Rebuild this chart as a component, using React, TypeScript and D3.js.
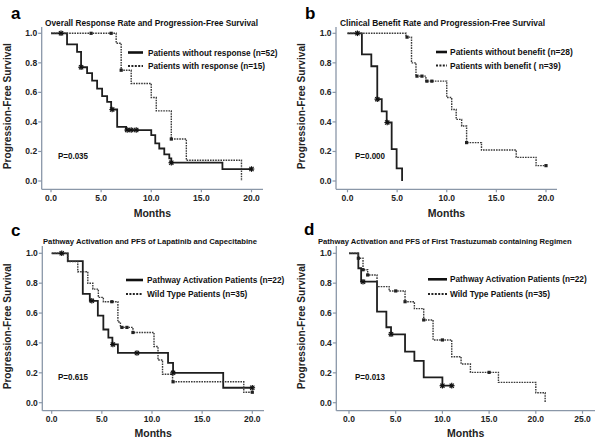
import React from 'react';
import * as d3 from 'd3';

const FONT = "Arial, 'Liberation Sans', Helvetica, sans-serif";

// ---------- shared ticks ----------
const yTicks = [0, 0.2, 0.4, 0.6, 0.8, 1.0];
const xTicks20 = [0, 5, 10, 15, 20];
const xTicks25 = [0, 5, 10, 15, 20, 25];

// ---------- panel a ----------
const aTitle = 'Overall Response Rate and Progression-Free Survival';
const aLegend = ['Patients without response (n=52)', 'Patients with response (n=15)'];
const aP = 'P=0.035';
const aNoRespT = [0, 1.6, 2.6, 3.0, 3.6, 4.1, 4.6, 5.1, 5.6, 6.0, 6.6, 7.5, 10.0, 10.4, 10.8, 11.3, 11.8, 12.0, 17.1];
const aNoRespS = [1, 0.925, 0.874, 0.77, 0.73, 0.68, 0.626, 0.574, 0.536, 0.484, 0.367, 0.345, 0.31, 0.255, 0.22, 0.18, 0.153, 0.124, 0.081];
const aNoRespEnd = 20;
const aNoRespCens = [1.0, 3.0, 6.1, 7.6, 8.0, 8.5, 12.0, 20.0];
const aRespT = [0, 6.5, 7.0, 8.0, 10.0, 10.5, 12.0, 13.5, 19.0];
const aRespS = [1, 0.933, 0.75, 0.66, 0.565, 0.475, 0.284, 0.14, 0];
const aRespEnd = 19;
const aRespCens = [4.0, 6.0, 7.0, 12.0];

// ---------- panel b ----------
const bTitle = 'Clinical Benefit Rate and Progression-Free Survival';
const bLegend = ['Patients without benefit (n=28)', 'Patients with benefit ( n=39)'];
const bP = 'P=0.000';
const bNoBenT = [0, 1.45, 2.4, 3.0, 3.45, 3.95, 4.45, 4.95, 5.5];
const bNoBenS = [1, 0.857, 0.777, 0.554, 0.472, 0.396, 0.216, 0.086, 0];
const bNoBenEnd = 5.5;
const bNoBenCens = [1.0, 3.0, 4.0];
const bBenT = [0, 5.9, 6.45, 6.9, 7.9, 10.0, 10.5, 10.95, 11.5, 12.0, 13.5, 17.0, 19.0];
const bBenS = [1, 0.974, 0.8, 0.71, 0.676, 0.565, 0.484, 0.417, 0.372, 0.26, 0.21, 0.16, 0.104];
const bBenEnd = 20;
const bBenCens = [6.0, 7.0, 7.5, 8.0, 8.5, 12.0, 20.0];

// ---------- panel c ----------
const cTitle = 'Pathway Activation and PFS of Lapatinib and Capecitabine';
const cLegend = ['Pathway Activation Patients (n=22)', 'Wild Type Patients (n=35)'];
const cP = 'P=0.615';
const cActT = [0, 1.6, 3.1, 3.8, 4.6, 5.15, 5.65, 6.05, 6.6, 11.6, 12.1, 17.1];
const cActS = [1, 0.948, 0.728, 0.682, 0.583, 0.49, 0.435, 0.39, 0.333, 0.266, 0.2, 0.1];
const cActEnd = 20;
const cActCens = [1.0, 4.0, 6.1, 8.5, 12.1, 20.0];
const cWildT = [0, 1.6, 2.6, 3.6, 4.1, 4.65, 5.15, 6.6, 6.85, 8.1, 10.2, 10.6, 11.05, 12.05, 19.15];
const cWildS = [1, 0.944, 0.877, 0.8, 0.76, 0.705, 0.676, 0.54, 0.504, 0.47, 0.376, 0.286, 0.19, 0.14, 0.07];
const cWildEnd = 20;
const cWildCens = [6.0, 7.0, 7.5, 8.1, 12.1, 20.0];

// ---------- panel d ----------
const dTitle = 'Pathway Activation and PFS of First Trastuzumab containing Regimen';
const dLegend = ['Pathway Activation Patients (n=22)', 'Wild Type Patients (n=35)'];
const dP = 'P=0.013';
const dActT = [0, 1.0, 1.3, 3.0, 4.0, 4.5, 6.0, 7.0, 8.0, 10.0];
const dActS = [1, 0.9, 0.81, 0.61, 0.505, 0.458, 0.342, 0.28, 0.17, 0.114];
const dActEnd = 11;
const dActCens = [1.5, 4.5, 10.0, 11.0];
const dWildT = [0, 1.0, 1.5, 2.0, 3.0, 4.3, 6.0, 7.0, 8.0, 9.0, 11.0, 12.0, 13.0, 16.0, 20.0, 21.0];
const dWildS = [1, 0.967, 0.89, 0.855, 0.777, 0.748, 0.676, 0.63, 0.554, 0.42, 0.308, 0.259, 0.203, 0.136, 0.067, 0];
const dWildEnd = 21;
const dWildCens = [1.0, 1.5, 2.0, 5.0, 6.0, 8.0, 10.0, 15.0];

type Series = { t: number[]; s: number[]; end: number; cens: number[]; dotted: boolean };

type PanelCfg = {
  letter: string; letterX: number; letterY: number;
  title: string; titleX: number; titleY: number; titleSize: number; titleLen: number;
  xTicks: number[]; xMax: number; xPx0: number; xPx1: number;
  yPx0: number; yPx1: number;
  axisX: number; axisTop: number; axisY: number; axisRight: number;
  tickBase: number; monthsBase: number; ylabX: number;
  legX1: number; legX2: number; legTX: number; legY: number[]; legLen: number[]; legend: string[];
  pText: string; pX: number; pY: number;
  series: Series[];
};

const AXIS = '#8a97a8';

function Panel({ c }: { c: PanelCfg }) {
  const x = d3.scaleLinear().domain([0, c.xMax]).range([c.xPx0, c.xPx1]);
  const y = d3.scaleLinear().domain([0, 1]).range([c.yPx0, c.yPx1]);
  const line = d3.line<[number, number]>().x(d => x(d[0])).y(d => y(d[1])).curve(d3.curveStepAfter);
  const xMid = (c.axisX + c.axisRight) / 2;
  const yMid = (c.axisTop + c.axisY) / 2 - 2;
  return (
    <g fontFamily={FONT} fontWeight="bold">
      <text x={c.letterX} y={c.letterY} fontSize={17} fill="#000">{c.letter}</text>
      <text x={c.titleX} y={c.titleY} fontSize={c.titleSize} fill="#111" textLength={c.titleLen} lengthAdjust="spacingAndGlyphs">{c.title}</text>
      {/* axes */}
      <line x1={c.axisX} x2={c.axisX} y1={c.axisTop} y2={c.axisY} stroke={AXIS} strokeWidth={1.3} />
      <line x1={c.axisX} x2={c.axisRight} y1={c.axisY} y2={c.axisY} stroke={AXIS} strokeWidth={1.3} />
      {yTicks.map(v => (
        <g key={'y' + v}>
          <line x1={c.axisX - 3.5} x2={c.axisX} y1={y(v)} y2={y(v)} stroke={AXIS} strokeWidth={1.2} />
          <text x={c.axisX - 4.5} y={y(v)} dy="0.35em" textAnchor="end" fontSize={8.5} fill="#222">{v.toFixed(1)}</text>
        </g>
      ))}
      {c.xTicks.map(v => (
        <g key={'x' + v}>
          <line x1={x(v)} x2={x(v)} y1={c.axisY} y2={c.axisY + 3} stroke={AXIS} strokeWidth={1.2} />
          <text x={x(v)} y={c.tickBase} textAnchor="middle" fontSize={8.5} fill="#222">{v.toFixed(1)}</text>
        </g>
      ))}
      <text x={xMid} y={c.monthsBase} textAnchor="middle" fontSize={10.5} fill="#222">Months</text>
      <text transform={`translate(${c.ylabX},${yMid}) rotate(-90)`} textAnchor="middle" fontSize={10} fill="#222" textLength={126} lengthAdjust="spacingAndGlyphs">Progression-Free Survival</text>
      {/* curves */}
      {c.series.map((s, i) => {
        const pts: [number, number][] = s.t.map((t, k) => [t, s.s[k]] as [number, number]);
        const last = s.s[s.s.length - 1];
        if (s.end > s.t[s.t.length - 1]) pts.push([s.end, last]);
        return (
          <path key={'p' + i} d={line(pts) || ''} fill="none"
            stroke={s.dotted ? '#3a3a3a' : '#1e1e1e'}
            strokeWidth={s.dotted ? 1.4 : 1.8}
            strokeDasharray={s.dotted ? '1.6,1' : undefined} />
        );
      })}
      {c.series.map((s, i) =>
        s.cens.map((ct, k) => {
          const idx = Math.max(0, d3.bisectRight(s.t, ct) - 1);
          const cx = x(ct), cy = y(s.s[idx]);
          if (s.dotted) {
            return <rect key={`c${i}-${k}`} x={cx - 1.6} y={cy - 1.6} width={3.2} height={3.2} fill="#222" />;
          }
          const r = 2.8;
          return (
            <g key={`c${i}-${k}`} stroke="#111" strokeWidth={1.2}>
              <line x1={cx - r} x2={cx + r} y1={cy} y2={cy} />
              <line x1={cx} x2={cx} y1={cy - r} y2={cy + r} />
              <line x1={cx - r * 0.75} x2={cx + r * 0.75} y1={cy - r * 0.75} y2={cy + r * 0.75} />
              <line x1={cx - r * 0.75} x2={cx + r * 0.75} y1={cy + r * 0.75} y2={cy - r * 0.75} />
            </g>
          );
        })
      )}
      {/* legend */}
      <line x1={c.legX1} x2={c.legX2} y1={c.legY[0] - 3} y2={c.legY[0] - 3} stroke="#111" strokeWidth={2.6} />
      <line x1={c.legX1} x2={c.legX2} y1={c.legY[1] - 3} y2={c.legY[1] - 3} stroke="#222" strokeWidth={2.2} strokeDasharray="2,1.4" />
      {c.legend.map((t, i) => (
        <text key={'l' + i} x={c.legTX} y={c.legY[i]} fontSize={8.6} fill="#111" textLength={c.legLen[i]} lengthAdjust="spacingAndGlyphs">{t}</text>
      ))}
      <text x={c.pX} y={c.pY} fontSize={8.4} fill="#111" textLength={30} lengthAdjust="spacingAndGlyphs">{c.pText}</text>
    </g>
  );
}

const panels: PanelCfg[] = [
  {
    letter: 'a', letterX: 11, letterY: 18.5,
    title: aTitle, titleX: 45, titleY: 26, titleSize: 8.4, titleLen: 213,
    xTicks: xTicks20, xMax: 20, xPx0: 51, xPx1: 251.5,
    yPx0: 181, yPx1: 33.3,
    axisX: 41.7, axisTop: 27, axisY: 189.3, axisRight: 263,
    tickBase: 201, monthsBase: 216.5, ylabX: 11,
    legX1: 128, legX2: 143, legTX: 148, legY: [55.5, 69], legLen: [129.5, 117], legend: aLegend,
    pText: aP, pX: 58, pY: 159,
    series: [
      { t: aNoRespT, s: aNoRespS, end: aNoRespEnd, cens: aNoRespCens, dotted: false },
      { t: aRespT, s: aRespS, end: aRespEnd, cens: aRespCens, dotted: true },
    ],
  },
  {
    letter: 'b', letterX: 305, letterY: 18.5,
    title: bTitle, titleX: 340, titleY: 26, titleSize: 8.4, titleLen: 205,
    xTicks: xTicks20, xMax: 20, xPx0: 347.5, xPx1: 546,
    yPx0: 181, yPx1: 33.3,
    axisX: 336, axisTop: 27, axisY: 189.3, axisRight: 557,
    tickBase: 201, monthsBase: 216.7, ylabX: 305,
    legX1: 436, legX2: 447, legTX: 450, legY: [55, 68.5], legLen: [122.7, 110.7], legend: bLegend,
    pText: bP, pX: 355, pY: 159,
    series: [
      { t: bNoBenT, s: bNoBenS, end: bNoBenEnd, cens: bNoBenCens, dotted: false },
      { t: bBenT, s: bBenS, end: bBenEnd, cens: bBenCens, dotted: true },
    ],
  },
  {
    letter: 'c', letterX: 11, letterY: 236,
    title: cTitle, titleX: 43, titleY: 244, titleSize: 7.7, titleLen: 214,
    xTicks: xTicks20, xMax: 20, xPx0: 51.7, xPx1: 252.3,
    yPx0: 402.7, yPx1: 253.3,
    axisX: 42.3, axisTop: 246, axisY: 410.7, axisRight: 264,
    tickBase: 421.7, monthsBase: 437.3, ylabX: 11,
    legX1: 126, legX2: 143, legTX: 147, legY: [283, 297], legLen: [137.3, 100.3], legend: cLegend,
    pText: cP, pX: 58, pY: 380.3,
    series: [
      { t: cActT, s: cActS, end: cActEnd, cens: cActCens, dotted: false },
      { t: cWildT, s: cWildS, end: cWildEnd, cens: cWildCens, dotted: true },
    ],
  },
  {
    letter: 'd', letterX: 304, letterY: 235,
    title: dTitle, titleX: 318, titleY: 244, titleSize: 7.6, titleLen: 253.7,
    xTicks: xTicks25, xMax: 25, xPx0: 349, xPx1: 582.5,
    yPx0: 402.7, yPx1: 253.3,
    axisX: 336.3, axisTop: 246, axisY: 410.7, axisRight: 595,
    tickBase: 421.7, monthsBase: 436.7, ylabX: 305,
    legX1: 428, legX2: 447, legTX: 450, legY: [282.3, 297], legLen: [136.7, 100], legend: dLegend,
    pText: dP, pX: 355, pY: 379.7,
    series: [
      { t: dActT, s: dActS, end: dActEnd, cens: dActCens, dotted: false },
      { t: dWildT, s: dWildS, end: dWildEnd, cens: dWildCens, dotted: true },
    ],
  },
];

export default function App() {
  return (
    <svg width={600} height={443} viewBox="0 0 600 443"
      style={{ position: 'absolute', left: 0, top: 0, background: '#fff' }}>
      <rect x={0} y={0} width={600} height={443} fill="#fff" />
      {panels.map(p => <Panel key={p.letter} c={p} />)}
    </svg>
  );
}
